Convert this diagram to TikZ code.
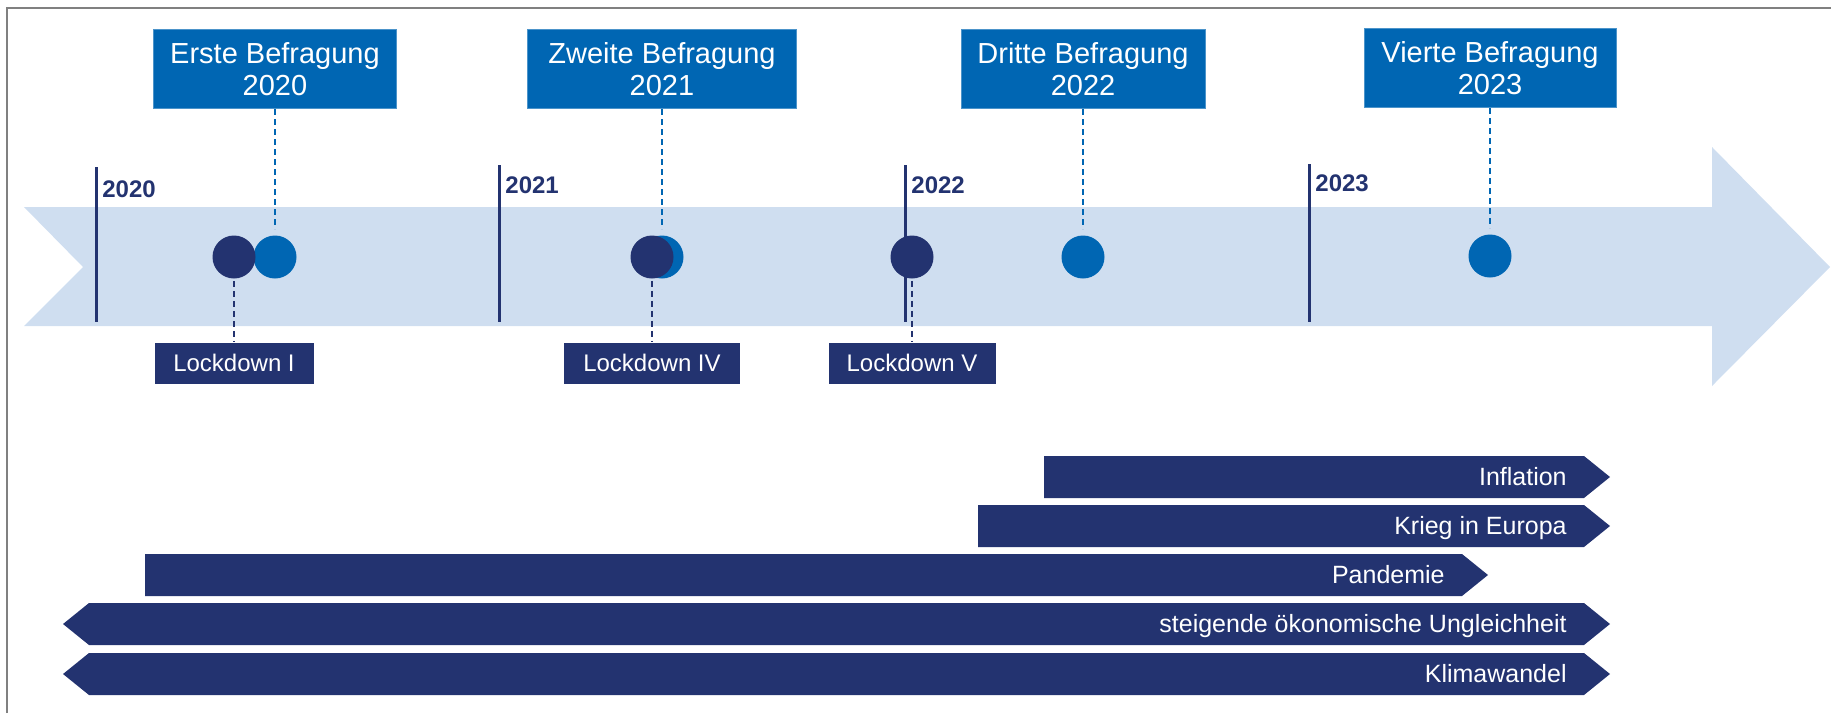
\documentclass[tikz,border=0pt]{standalone}
\usepackage{fontspec}
\setmainfont{Liberation Sans}
\usetikzlibrary{positioning}

\definecolor{navy}{RGB}{35,51,112}
\definecolor{befblue}{RGB}{0,102,179}
\definecolor{lightband}{RGB}{207,222,240}
\definecolor{framegray}{RGB}{128,128,128}

\begin{document}
\begin{tikzpicture}[x=0.5pt,y=-0.5pt,
    survey/.style={fill=befblue, draw=befblue!70!white, line width=0.4pt, text=white,
        align=center, font=\fontsize{14.5}{16}\selectfont, minimum height=39.5pt, inner sep=0pt},
    lockbox/.style={fill=navy, text=white, font=\fontsize{12}{14}\selectfont,
        minimum height=20.5pt, inner sep=0pt},
    dot/.style={circle, minimum size=21.5pt, inner sep=0pt},
    yearlabel/.style={text=navy, font=\fontsize{12}{14}\selectfont\bfseries,
        inner sep=0pt, anchor=base west},
    bartext/.style={text=white, font=\fontsize{12.5}{14}\selectfont, inner sep=0pt,
        anchor=base east},
    uplink/.style={befblue, line width=0.9pt, dash pattern=on 3pt off 2pt},
    downlink/.style={navy, line width=0.9pt, dash pattern=on 3pt off 2pt}]

  \useasboundingbox (0,0) rectangle (1831,713);
  \draw[framegray, line width=1pt] (7,713) -- (7,8) -- (1831,8);

  % timeline arrow
  \fill[lightband] (24,207) -- (83,267) -- (24,326) -- (1712,326) -- (1712,386)
     -- (1830,267) -- (1712,147) -- (1712,207) -- cycle;

  % year marks
  \foreach \x/\top/\base/\yr in {96/167/197/2020, 499/165/193/2021,
                                 905/165/193/2022, 1309/164/191/2023} {
    \draw[navy, line width=1.5pt] (\x,\top) -- (\x,322);
    \node[yearlabel] (y\yr) at (\x+6,\base) {\yr};
  }

  % dots on the timeline
  \node[dot, fill=befblue] (s1) at (275,257)  {};
  \node[dot, fill=navy]    (d1) at (234,257)  {};
  \node[dot, fill=befblue] (s2) at (662,257)  {};
  \node[dot, fill=navy]    (d2) at (652,257)  {};
  \node[dot, fill=navy]    (d3) at (912,257)  {};
  \node[dot, fill=befblue] (s3) at (1083,257) {};
  \node[dot, fill=befblue] (s4) at (1490,256) {};

  % survey boxes
  \node[survey, minimum width=121.5pt] (b1) [above=63pt of s1] {Erste Befragung\\2020};
  \node[survey, minimum width=134.5pt] (b2) [above=63pt of s2] {Zweite Befragung\\2021};
  \node[survey, minimum width=122pt]   (b3) [above=63pt of s3] {Dritte Befragung\\2022};
  \node[survey, minimum width=126pt]   (b4) [above=63pt of s4] {Vierte Befragung\\2023};

  % lockdown boxes
  \node[lockbox, minimum width=79.5pt] (l1) [below=31.75pt of d1] {Lockdown I};
  \node[lockbox, minimum width=88pt]   (l2) [below=31.75pt of d2] {Lockdown IV};
  \node[lockbox, minimum width=83.5pt] (l3) [below=31.75pt of d3] {Lockdown V};

  \foreach \i in {1,...,4}
    \draw[uplink, shorten >=3pt] (b\i.south) -- (s\i.north);
  \foreach \i in {1,2,3}
    \draw[downlink, shorten <=1pt] (d\i.south) -- (l\i.north);

  % crisis bars
  \foreach \nm/\lt/\lb/\rb/\yt/\txt in {
      infl/1044/1044/1584/456/Inflation,
      krieg/978/978/1584/505/Krieg in Europa,
      pand/145/145/1462/554/Pandemie,
      ungl/63/89/1584/603/steigende ökonomische Ungleichheit,
      klima/63/89/1584/653/Klimawandel} {
    \fill[navy] (\lt,\yt+21) -- (\lb,\yt) -- (\rb,\yt) -- (\rb+26,\yt+21)
       -- (\rb,\yt+42) -- (\lb,\yt+42) -- cycle;
    \node[bartext] (\nm) at (\rb-17,\yt+29) {\txt};
  }
\end{tikzpicture}
\end{document}
